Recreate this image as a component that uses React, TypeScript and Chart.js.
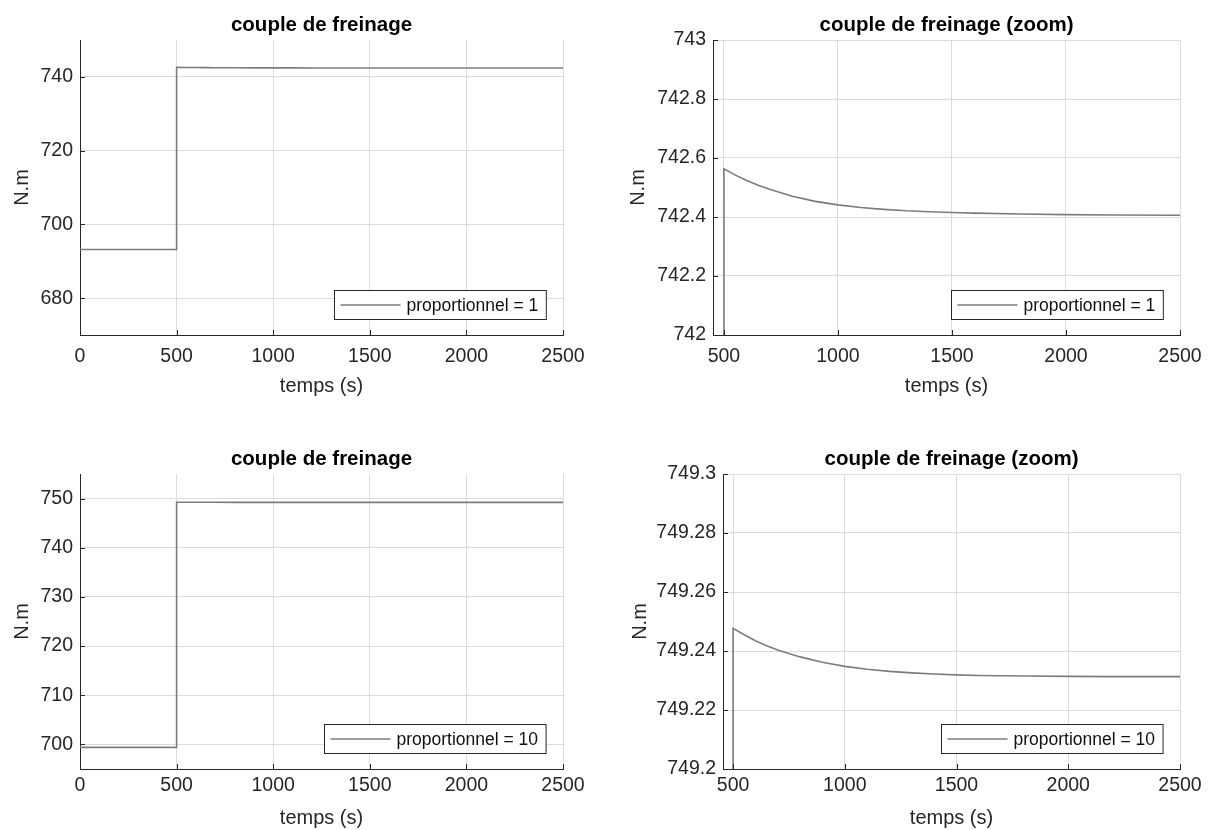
import React, { useEffect, useRef } from "react";
import { Chart, registerables } from "chart.js";

Chart.register(...registerables);

const FONT = "'Liberation Sans', Arial, Helvetica, sans-serif";

// ---------------- data ----------------
const stepTimes = [0, 500];
const decayTimes = [500, 550, 600, 650, 700, 800, 900, 1000, 1100, 1200, 1300, 1400, 1500, 1600, 1800, 2000, 2200, 2500];

const initialP1 = 693.2;
const coupleP1 = [742.563, 742.542, 742.524, 742.508, 742.494, 742.47, 742.453, 742.441, 742.432, 742.426, 742.421, 742.418, 742.415, 742.413, 742.41, 742.408, 742.407, 742.406];

const initialP10 = 699.4;
const coupleP10 = [749.2477, 749.2455, 749.2435, 749.2418, 749.2403, 749.238, 749.2362, 749.2348, 749.2338, 749.2331, 749.2326, 749.2322, 749.2319, 749.2317, 749.2315, 749.2314, 749.2313, 749.2313];

const xTicksFull = [0, 500, 1000, 1500, 2000, 2500];
const xTicksZoom = [500, 1000, 1500, 2000, 2500];
const yTicksP1Full = [680, 700, 720, 740];
const yTicksP1Zoom = [742, 742.2, 742.4, 742.6, 742.8, 743];
const yTicksP10Full = [700, 710, 720, 730, 740, 750];
const yTicksP10Zoom = [749.2, 749.22, 749.24, 749.26, 749.28, 749.3];

const titleFull = "couple de freinage";
const titleZoom = "couple de freinage (zoom)";
const xLabel = "temps (s)";
const yLabel = "N.m";
const legendP1 = "proportionnel = 1";
const legendP10 = "proportionnel = 10";

// ---------------- style ----------------
const LINE_COLOR = "#7c7c7c";
const AXIS_COLOR = "#262626";
const GRID_COLOR = "#dcdcdc";
const TICK_SIZE = 19.5;
const TITLE_SIZE = 20.5;
const LABEL_SIZE = 20;
const LEGEND_SIZE = 17.5;
const LH = 1.2;

function fmt(v: number) {
  return String(Number(v.toFixed(3)));
}

function buildSeries(initial: number, values: number[]) {
  const pts = [] as { x: number; y: number }[];
  stepTimes.forEach((t) => pts.push({ x: t, y: initial }));
  decayTimes.forEach((t, i) => pts.push({ x: t, y: values[i] }));
  return pts;
}

const inwardTicks = {
  id: "inwardTicks",
  afterDatasetsDraw(chart: any) {
    const { ctx, chartArea, scales } = chart;
    ctx.save();
    ctx.strokeStyle = AXIS_COLOR;
    ctx.lineWidth = 1;
    const len = 5;
    scales.x.ticks.forEach((t: any) => {
      const px = Math.round(scales.x.getPixelForValue(t.value)) + 0.5;
      ctx.beginPath();
      ctx.moveTo(px, chartArea.bottom);
      ctx.lineTo(px, chartArea.bottom - len);
      ctx.stroke();
    });
    scales.y.ticks.forEach((t: any) => {
      const py = Math.round(scales.y.getPixelForValue(t.value)) + 0.5;
      ctx.beginPath();
      ctx.moveTo(chartArea.left, py);
      ctx.lineTo(chartArea.left + len, py);
      ctx.stroke();
    });
    ctx.restore();
  },
};

const boxLegend = {
  id: "boxLegend",
  afterDraw(chart: any, _args: any, opts: any) {
    const { ctx, chartArea } = chart;
    const ds = chart.data.datasets[0];
    ctx.save();
    ctx.font = `${LEGEND_SIZE}px ${FONT}`;
    const tw = ctx.measureText(ds.label).width;
    const padL = 6;
    const lineLen = 60;
    const gap = 6;
    const padR = 8;
    const h = 29;
    const w = padL + lineLen + gap + tw + padR;
    const right = chartArea.right - opts.offsetRight;
    const bottom = chartArea.bottom - opts.offsetBottom;
    const left = Math.round(right - w) + 0.5;
    const top = Math.round(bottom - h) + 0.5;
    ctx.fillStyle = "#ffffff";
    ctx.fillRect(left, top, w, h);
    ctx.strokeStyle = AXIS_COLOR;
    ctx.lineWidth = 1;
    ctx.strokeRect(left, top, w, h);
    const cy = top + h / 2;
    ctx.strokeStyle = ds.borderColor;
    ctx.lineWidth = 1.5;
    ctx.beginPath();
    ctx.moveTo(left + padL, cy);
    ctx.lineTo(left + padL + lineLen, cy);
    ctx.stroke();
    ctx.fillStyle = "#111111";
    ctx.textBaseline = "middle";
    ctx.textAlign = "left";
    ctx.fillText(ds.label, left + padL + lineLen + gap, cy + 1);
    ctx.restore();
  },
};

type Box = { left: number; top: number; width: number; height: number };
type Area = { left: number; right: number; top: number; bottom: number };

type PanelProps = {
  canvas: Box;
  area: Area;
  titleCY: number;
  xTitleCY: number;
  yTitleCX: number;
  xTickCY: number;
  title: string;
  label: string;
  series: { x: number; y: number }[];
  xMin: number;
  xMax: number;
  yMin: number;
  yMax: number;
  xTicks: number[];
  yTicks: number[];
};

function Panel(p: PanelProps) {
  const ref = useRef<HTMLCanvasElement | null>(null);
  useEffect(() => {
    if (!ref.current) return;
    const c = p.canvas;
    const a = p.area;
    const titleLH = TITLE_SIZE * LH;
    const labelLH = LABEL_SIZE * LH;
    const tickLH = TICK_SIZE * LH;
    const titlePadTop = p.titleCY - c.top - titleLH / 2;
    const titlePadBottom = a.top - c.top - titleLH - titlePadTop;
    const yAxisWidth = a.left - c.left;
    const padRight = c.left + c.width - a.right;
    const xAxisHeight = c.top + c.height - a.bottom;
    const xTitlePadBottom = Math.max(0, c.top + c.height - p.xTitleCY - labelLH / 2);
    const yTitlePadTop = p.yTitleCX - c.left - labelLH / 2;
    const xTickPad = p.xTickCY - a.bottom - tickLH / 2;

    const chart = new Chart(ref.current, {
      type: "line",
      data: {
        datasets: [
          {
            label: p.label,
            data: p.series,
            borderColor: LINE_COLOR,
            borderWidth: 1.6,
            pointRadius: 0,
            tension: 0,
            fill: false,
          },
        ],
      },
      options: {
        animation: false,
        responsive: false,
        devicePixelRatio: 1,
        layout: { padding: { left: 0, top: 0, right: padRight, bottom: 0 } },
        plugins: {
          legend: { display: false },
          tooltip: { enabled: false },
          title: {
            display: true,
            text: p.title,
            fullSize: false,
            color: "#000000",
            font: { family: FONT, size: TITLE_SIZE, weight: "bold", lineHeight: LH },
            padding: { top: titlePadTop, bottom: titlePadBottom },
          },
          boxLegend: { offsetRight: 17, offsetBottom: 16 },
        } as any,
        scales: {
          x: {
            type: "linear",
            min: p.xMin,
            max: p.xMax,
            afterBuildTicks: (s: any) => {
              s.ticks = p.xTicks.map((v) => ({ value: v }));
            },
            afterFit: (s: any) => {
              s.height = xAxisHeight;
            },
            grid: { color: GRID_COLOR, drawTicks: false, lineWidth: 1 },
            border: { display: true, color: AXIS_COLOR, width: 1 },
            ticks: {
              autoSkip: false,
              maxRotation: 0,
              padding: xTickPad,
              color: AXIS_COLOR,
              font: { family: FONT, size: TICK_SIZE, lineHeight: LH },
              callback: (v: any) => fmt(Number(v)),
            },
            title: {
              display: true,
              text: xLabel,
              color: AXIS_COLOR,
              font: { family: FONT, size: LABEL_SIZE, lineHeight: LH },
              padding: { top: 0, bottom: xTitlePadBottom },
            },
          },
          y: {
            type: "linear",
            min: p.yMin,
            max: p.yMax,
            afterBuildTicks: (s: any) => {
              s.ticks = p.yTicks.map((v) => ({ value: v }));
            },
            afterFit: (s: any) => {
              s.width = yAxisWidth;
            },
            grid: { color: GRID_COLOR, drawTicks: false, lineWidth: 1 },
            border: { display: true, color: AXIS_COLOR, width: 1 },
            ticks: {
              autoSkip: false,
              padding: 7,
              color: AXIS_COLOR,
              font: { family: FONT, size: TICK_SIZE, lineHeight: LH },
              callback: (v: any) => fmt(Number(v)),
            },
            title: {
              display: true,
              text: yLabel,
              color: AXIS_COLOR,
              font: { family: FONT, size: LABEL_SIZE, lineHeight: LH },
              padding: { top: yTitlePadTop, bottom: 0 },
            },
          },
        },
      } as any,
      plugins: [inwardTicks, boxLegend],
    });
    return () => chart.destroy();
  }, []);
  const c = p.canvas;
  return (
    <canvas
      ref={ref}
      width={c.width}
      height={c.height}
      style={{ position: "absolute", left: c.left, top: c.top, width: c.width, height: c.height }}
    />
  );
}

export default function App() {
  const s1 = buildSeries(initialP1, coupleP1);
  const s10 = buildSeries(initialP10, coupleP10);
  return (
    <div style={{ position: "absolute", left: 0, top: 0, width: 1215, height: 830, background: "#ffffff", overflow: "hidden" }}>
      <Panel
        canvas={{ left: 0, top: 0, width: 607, height: 415 }}
        area={{ left: 80, right: 563, top: 40, bottom: 335 }}
        titleCY={25}
        xTitleCY={386}
        yTitleCX={22}
        xTickCY={357}
        title={titleFull}
        label={legendP1}
        series={s1}
        xMin={0}
        xMax={2500}
        yMin={670}
        yMax={750}
        xTicks={xTicksFull}
        yTicks={yTicksP1Full}
      />
      <Panel
        canvas={{ left: 607, top: 0, width: 608, height: 415 }}
        area={{ left: 713, right: 1180, top: 40, bottom: 335 }}
        titleCY={25}
        xTitleCY={386}
        yTitleCX={638}
        xTickCY={357}
        title={titleZoom}
        label={legendP1}
        series={s1}
        xMin={452}
        xMax={2500}
        yMin={742}
        yMax={743}
        xTicks={xTicksZoom}
        yTicks={yTicksP1Zoom}
      />
      <Panel
        canvas={{ left: 0, top: 415, width: 607, height: 415 }}
        area={{ left: 80, right: 563, top: 474, bottom: 769 }}
        titleCY={459}
        xTitleCY={819}
        yTitleCX={22}
        xTickCY={786}
        title={titleFull}
        label={legendP10}
        series={s10}
        xMin={0}
        xMax={2500}
        yMin={695}
        yMax={755}
        xTicks={xTicksFull}
        yTicks={yTicksP10Full}
      />
      <Panel
        canvas={{ left: 607, top: 415, width: 608, height: 415 }}
        area={{ left: 723, right: 1180, top: 474, bottom: 769 }}
        titleCY={459}
        xTitleCY={819}
        yTitleCX={640}
        xTickCY={786}
        title={titleZoom}
        label={legendP10}
        series={s10}
        xMin={455}
        xMax={2500}
        yMin={749.2}
        yMax={749.3}
        xTicks={xTicksZoom}
        yTicks={yTicksP10Zoom}
      />
    </div>
  );
}
